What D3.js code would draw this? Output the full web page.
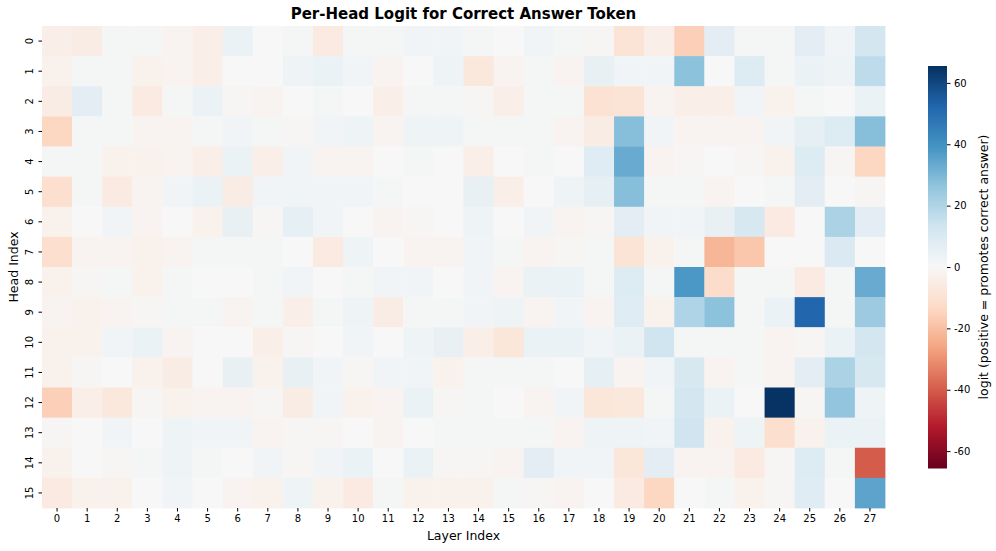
<!DOCTYPE html>
<html>
<head>
<meta charset="utf-8">
<script src="https://cdn.jsdelivr.net/npm/d3@7"></script>
<style>
  body { margin: 0; background: #fff; }
  svg text { font-family: "DejaVu Sans", sans-serif; fill: #000; }
  .tick line { stroke: #000; }
  .domain { display: none; }
</style>
</head>
<body>
<div id="chart"></div>
<script>
// --- per-head logit heatmap -------------------------------------------------

const layers = d3.range(28);   // x categories
const heads = d3.range(16);    // y categories
const cbarTicks = [-60, -40, -20, 0, 20, 40, 60];

// one row per head, one value per layer
const h0  = [-4, -5, 1, 1, -2, -4, 4, 0, 1, -6, 1, 1, 2, 2, 1, 0, 2, 1, -1, -9, -4, -16, 7, 1, 1, 7, 2, 12];
const h1  = [-3, 1, 1, -3, -2, -4, 0, 0, 3, 4, 2, -2, 0, 3, -7, -2, 1, -2, 5, 2, 2, 27, 0, 9, 1, 4, 3, 17];
const h2  = [-5, 7, 1, -6, 1, 4, -1, -2, 0, 1, 0, -4, 1, 1, -1, -4, 1, 1, -10, -9, -2, -4, -4, 2, -3, 1, 0, 4];
const h3  = [-14, 1, 1, -2, -2, 1, 2, 1, -1, 2, 3, -2, 3, 3, 1, 1, 1, -2, -5, 28, 2, -2, -2, -2, 2, 6, 9, 28];
const h4  = [1, 1, -3, -3, -2, -4, 4, -4, 2, -2, -2, 0, 1, 0, -4, 0, 1, 0, 8, 33, -2, -1, 0, -1, -3, 9, -1, -14];
const h5  = [-11, 1, -6, -2, 2, 4, -5, 2, 2, 2, 2, 1, 0, 0, 5, -4, 0, 3, 6, 28, 1, 1, -2, 0, 1, 7, 0, -1];
const h6  = [-3, 0, 2, -2, 0, -3, 5, -1, 6, 2, 0, -2, -1, 0, 3, 0, 2, -2, -1, 7, 2, 2, 5, 11, -6, 0, 21, 7];
const h7  = [-11, -2, -2, -3, -2, 1, 1, 1, 0, -6, 3, 0, -2, -2, 2, 1, -2, -1, 1, -9, -3, 1, -22, -18, 0, 0, 10, 0];
const h8  = [-3, -1, 1, -3, 1, 0, 0, 1, 2, 0, 1, 2, 2, 0, 2, -2, 4, 4, 1, 9, 1, 38, -12, 1, 1, -6, 1, 33];
const h9  = [-2, -3, -2, -1, 1, 1, -2, 1, -4, 1, 3, -5, 1, 1, 2, 3, -2, 2, -2, 8, -3, 20, 27, 1, 4, 52, 1, 24];
const h10 = [-3, -3, 2, 4, -2, 0, 0, -4, -1, 0, 2, 0, 3, 5, -4, -8, 4, 4, 2, 4, 13, 1, 1, 1, -2, -1, 4, 12];
const h11 = [-3, -1, 0, -3, -5, 0, 5, -3, 5, 2, -1, 2, 2, -3, 1, 1, 1, 0, 6, -2, 2, 11, -2, 1, -2, 7, 21, 11];
const h12 = [-16, -4, -7, -1, -3, -2, -2, -1, -5, 2, -3, -2, 4, -1, 1, 0, -2, 2, -8, -7, 1, 12, 4, 0, 65, -1, 26, 3];
const h13 = [-1, 0, 2, 0, 3, 2, 2, -2, -1, -1, 0, -2, 0, 1, 1, 1, 1, -2, 3, 3, 2, 13, -3, 3, -11, -3, 4, 4];
const h14 = [-3, 0, -1, 1, 3, 1, 0, 2, -1, 2, 4, 0, 4, -1, -1, -2, 7, 2, 2, -8, 7, -2, -2, -6, -1, 9, 1, -40];
const h15 = [-6, -3, -3, 0, 2, 0, -2, -3, 3, -3, -6, 1, -3, -3, -3, 1, -1, -2, 0, -6, -14, 0, 1, -3, -1, 8, 0, 35];

const rows = [h0, h1, h2, h3, h4, h5, h6, h7, h8, h9, h10, h11, h12, h13, h14, h15];

// matplotlib's RdBu is a plain linear ramp through the 11 brewer stops
// (d3.interpolateRdBu is a spline and comes out greyer near zero)
const RDBU = ['#67001f', '#b2182b', '#d6604d', '#f4a582', '#fddbc7', '#f7f7f7',
              '#d1e5f0', '#92c5de', '#4393c3', '#2166ac', '#053061'];

const W = 996, H = 551;
const M = { left: 42, top: 26, right: 885, bottom: 508 };
const VMAX = 65.5;

const svg = d3.select('#chart').append('svg')
  .attr('width', W).attr('height', H);

const x = d3.scaleBand().domain(layers).range([M.left, M.right]);
const y = d3.scaleBand().domain(heads).range([M.top, M.bottom]);
const fill = d3.scaleLinear()
  .domain(RDBU.map((_, i) => -VMAX + (2 * VMAX) * i / (RDBU.length - 1)))
  .range(RDBU)
  .interpolate(d3.interpolateRgb)
  .clamp(true);

const cells = [];
rows.forEach((r, i) => r.forEach((v, j) => cells.push({ i, j, v })));

svg.append('g').selectAll('rect')
  .data(cells)
  .join('rect')
    .attr('x', d => x(d.j))
    .attr('y', d => y(d.i))
    .attr('width', x.bandwidth() + 0.4)
    .attr('height', y.bandwidth() + 0.4)
    .attr('fill', d => fill(d.v));

// --- axes ---
const xAxis = svg.append('g')
  .attr('transform', `translate(0,${M.bottom})`)
  .call(d3.axisBottom(x).tickSize(3.5).tickPadding(3.5));
xAxis.selectAll('text').style('font-size', '10px');

const yAxis = svg.append('g')
  .attr('transform', `translate(${M.left},0)`)
  .call(d3.axisLeft(y).tickSize(3.5).tickPadding(3.5));
yAxis.selectAll('text')
  .style('font-size', '10px')
  .attr('text-anchor', 'middle')
  .attr('dy', null)
  .attr('x', 0).attr('y', 0)
  .attr('transform', 'translate(-13,0) rotate(-90)')
  .attr('dominant-baseline', 'central');

svg.append('text')
  .attr('x', (M.left + M.right) / 2).attr('y', 19)
  .attr('text-anchor', 'middle')
  .style('font-size', '15px').style('font-weight', 'bold')
  .text('Per-Head Logit for Correct Answer Token');

svg.append('text')
  .attr('x', (M.left + M.right) / 2).attr('y', 540)
  .attr('text-anchor', 'middle')
  .style('font-size', '12.5px')
  .text('Layer Index');

svg.append('text')
  .attr('transform', `translate(18,${(M.top + M.bottom) / 2}) rotate(-90)`)
  .attr('text-anchor', 'middle')
  .style('font-size', '12.5px')
  .text('Head Index');

// --- colorbar ---
const CB = { x: 928, w: 19, top: 66, bottom: 468 };
const cy = d3.scaleLinear().domain([-VMAX, VMAX]).range([CB.bottom, CB.top]);
const cbSteps = d3.range(CB.top, CB.bottom, 1);
svg.append('g').selectAll('rect')
  .data(cbSteps)
  .join('rect')
    .attr('x', CB.x).attr('y', d => d)
    .attr('width', CB.w).attr('height', 1.5)
    .attr('fill', d => fill(cy.invert(d + 0.5)));

const cAxis = svg.append('g')
  .attr('transform', `translate(${CB.x + CB.w},0)`)
  .call(d3.axisRight(cy).tickValues(cbarTicks).tickFormat(d => String(d))
    .tickSize(3.5).tickPadding(3.5));
cAxis.selectAll('text').style('font-size', '10px');

svg.append('text')
  .attr('transform', `translate(988,${(CB.top + CB.bottom) / 2}) rotate(-90)`)
  .attr('text-anchor', 'middle')
  .style('font-size', '12.5px')
  .text('logit (positive = promotes correct answer)');
</script>
</body>
</html>
